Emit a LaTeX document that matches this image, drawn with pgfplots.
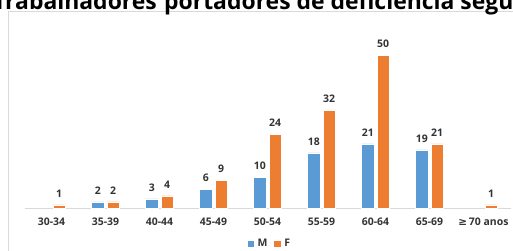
\documentclass[border=0pt]{standalone}
\usepackage{pgfplots}
\pgfplotsset{compat=1.18}
\usepackage{fontspec}
\setmainfont{Open Sans}
\newfontfamily\symfont{DejaVu Sans}
\definecolor{mblue}{HTML}{5B9BD5}
\definecolor{forange}{HTML}{ED7D31}
\definecolor{lblgray}{HTML}{333333}
\definecolor{framegray}{HTML}{D9D9D9}
\definecolor{axisgray}{HTML}{D9D9D9}
\begin{document}
\begin{tikzpicture}
\useasboundingbox (0bp,0bp) rectangle (513bp,251bp);
\clip (0bp,0bp) rectangle (513bp,251bp);
\draw[framegray, line width=1bp] (8.5bp,-20bp) -- (8.5bp,239.5bp) -- (540bp,239.5bp);
\node[anchor=base east, inner sep=0pt, font=\fontsize{23}{27}\selectfont\bfseries] at (157bp,241bp) {Trabalhadores};
\node[anchor=base west, inner sep=0pt, font=\fontsize{23}{27}\selectfont\bfseries] at (164bp,241bp) {portadores de deficiência segundo faixa etária};
\begin{axis}[
  at={(24.5bp,43bp)}, anchor=south west,
  scale only axis, width=486bp, height=178bp,
  xmin=-0.5, xmax=8.5, ymin=0, ymax=58.2,
  ybar, bar width=12.3bp,
  axis x line*=bottom, axis y line=none,
  axis line style={draw=axisgray, line width=0.8bp},
  xtick={0,...,8},
  xticklabels={30-34,35-39,40-44,45-49,50-54,55-59,60-64,65-69,{{\symfont\bfseries ≥}\,70 anos}},
  major tick length=0pt,
  xticklabel style={font=\fontsize{10.5}{12}\selectfont\bfseries, text=lblgray, inner sep=0pt, yshift=-10bp},
  /pgf/number format/assume math mode=true,
  nodes near coords,
  every node near coord/.append style={font=\fontsize{10.5}{12}\selectfont\bfseries, text=lblgray, inner sep=0pt, anchor=south, yshift=7.5bp},
  legend style={at={(0.507,-0.202)}, anchor=center, draw=none, fill=none,
    font=\fontsize{10.5}{12}\selectfont\bfseries, text=lblgray,
    /tikz/every even column/.append style={column sep=3bp},
    nodes={inner xsep=4bp, inner ysep=2bp}},
  legend columns=2,
  clip=false,
]
\addplot+[fill=mblue, draw=white, line width=0.4bp, bar shift=-7.7bp,
  legend image code/.code={\fill[mblue] (0bp,-2.5bp) rectangle (5.5bp,2.5bp);}]
  coordinates {(1,2) (2,3) (3,6) (4,10) (5,18) (6,21) (7,19)};
\addlegendentry{M}
\addplot+[fill=forange, draw=white, line width=0.4bp, bar shift=7.7bp,
  legend image code/.code={\fill[forange] (0bp,-2.5bp) rectangle (5.5bp,2.5bp);}]
  coordinates {(0,1) (1,2) (2,4) (3,9) (4,24) (5,32) (6,50) (7,21) (8,1)};
\addlegendentry{F}
\end{axis}
\end{tikzpicture}
\end{document}
